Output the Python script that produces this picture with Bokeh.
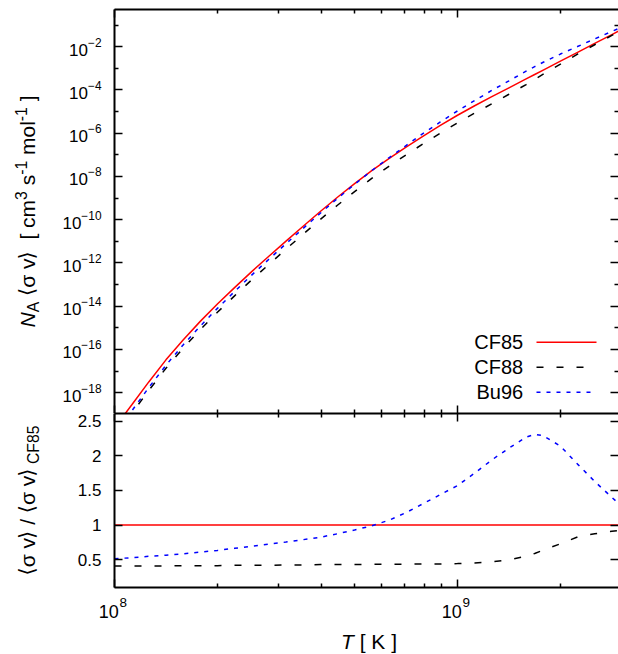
import math
import numpy as np
from bokeh.plotting import figure
from bokeh.layouts import column, row
from bokeh.models import FixedTicker, LogAxis, LinearAxis, Label, Range1d
from bokeh.embed import file_html
from bokeh.resources import INLINE
from bokeh.core.properties import value

# ---------------- data ----------------
log_T = [8.00, 8.05, 8.10, 8.15, 8.20, 8.25, 8.30, 8.35, 8.40, 8.45,
         8.50, 8.55, 8.60, 8.65, 8.70, 8.75, 8.80, 8.85, 8.90, 8.95,
         9.00, 9.05, 9.10, 9.15, 9.20, 9.225, 9.25, 9.30, 9.35, 9.40, 9.45, 9.477]

log_rate_cf85 = [-19.62, -18.57, -17.50, -16.48, -15.56, -14.70, -13.90, -13.14, -12.40, -11.69,
                 -10.99, -10.30, -9.62, -8.96, -8.33, -7.73, -7.17, -6.64, -6.13, -5.64,
                 -5.17, -4.73, -4.31, -3.90, -3.49, -3.285, -3.08, -2.67, -2.26, -1.85, -1.44, -1.22]
log_rate_cf88 = [-20.01, -18.96, -17.89, -16.87, -15.94, -15.08, -14.28, -13.52, -12.78, -12.07,
                 -11.36, -10.67, -9.99, -9.33, -8.70, -8.09, -7.53, -7.00, -6.49, -6.00,
                 -5.52, -5.07, -4.64, -4.20, -3.75, -3.51, -3.27, -2.81, -2.34, -1.91, -1.48, -1.25]
log_rate_bu96 = [-19.91, -18.85, -17.76, -16.73, -15.79, -14.92, -14.10, -13.32, -12.56, -11.83,
                 -11.11, -10.40, -9.70, -9.02, -8.36, -7.73, -7.14, -6.57, -6.01, -5.48,
                 -4.97, -4.49, -4.02, -3.58, -3.13, -2.92, -2.72, -2.34, -1.99, -1.64, -1.29, -1.11]

ratio_T = [8.0, 9.477]
ratio_cf85 = [1.0, 1.0]
ratio_cf88 = [0.41, 0.41, 0.41, 0.41, 0.415, 0.415, 0.415, 0.42, 0.42, 0.42,
              0.425, 0.425, 0.43, 0.43, 0.43, 0.435, 0.435, 0.435, 0.44, 0.44,
              0.445, 0.455, 0.47, 0.50, 0.55, 0.59, 0.64, 0.73, 0.83, 0.875, 0.91, 0.925]
ratio_bu96 = [0.515, 0.53, 0.55, 0.565, 0.585, 0.61, 0.635, 0.665, 0.695, 0.725,
              0.755, 0.79, 0.825, 0.875, 0.93, 0.99, 1.07, 1.18, 1.31, 1.44,
              1.57, 1.75, 1.94, 2.11, 2.27, 2.31, 2.29, 2.14, 1.88, 1.63, 1.40, 1.28]

series_names = ["CF85", "CF88", "Bu96"]
top_major_exp = [-18, -16, -14, -12, -10, -8, -6, -4, -2]
top_minor_exp = [-17, -15, -13, -11, -9, -7, -5, -3, -1]
x_major = [1e8, 1e9]
x_major_exp = ["8", "9"]
x_minor = [2e8, 3e8, 4e8, 5e8, 6e8, 7e8, 8e8, 9e8, 2e9, 3e9]
ratio_ticks = [0.5, 1.0, 1.5, 2.0, 2.5]
ratio_labels = ["0.5", "1", "1.5", "2", "2.5"]

# ---------------- geometry (page pixels) ----------------
W_PAGE, H_PAGE = 618, 654
STRIP_W = 50              # left strip holding the rotated axis titles
L, R, TOP, MID, BOT = 114, 618, 9, 413, 587
BOT_PAD = 2               # room for the label-less axis under the ratio panel
XSTRIP_TOP = BOT + BOT_PAD
XLO = 8.0
XHI = 8.0 + (R - L) / 343.0
YLO_T, YHI_T = -18.96, -0.28
YLO_B, YHI_B = 0.1, 2.61
MAIN_W = W_PAGE - STRIP_W
BORDER_L = L - STRIP_W
K_MID = 0.35              # alphabetic baseline sits this many ems below a "middle" anchor
YLAB_BASE = 34            # x of the baseline of the rotated axis titles

FONT = "Liberation Sans"
RED, BLACK, BLUE = "#ff0000", "#000000", "#0000ff"
DASH_88, DASH_96 = "7 13", "4 6"


def xd(px):
    return 10 ** (XLO + (px - L) / (R - L) * (XHI - XLO))


def yd_top(py):
    return 10 ** (YLO_T + (MID - py) / (MID - TOP) * (YHI_T - YLO_T))


T = [10 ** v for v in log_T]
T_r = [10 ** v for v in ratio_T]

x_range = Range1d(10 ** XLO, 10 ** XHI)


def base_fig(height, y_type, y_range, mt, mb):
    p = figure(width=MAIN_W, height=height, x_axis_type="log", y_axis_type=y_type,
               x_range=x_range, y_range=y_range,
               x_axis_location=None, y_axis_location=None,
               output_backend="svg", toolbar_location=None,
               min_border_left=BORDER_L, min_border_right=0,
               min_border_top=mt, min_border_bottom=mb)
    p.outline_line_color = None
    p.background_fill_color = "white"
    p.border_fill_color = "white"
    p.xgrid.visible = False
    p.ygrid.visible = False
    return p


def tick_style(ax, line=True):
    ax.major_tick_in = 8
    ax.major_tick_out = 0
    ax.minor_tick_in = 4
    ax.minor_tick_out = 0
    ax.major_tick_line_color = "black"
    ax.minor_tick_line_color = "black"
    ax.major_tick_line_width = 1.5
    ax.minor_tick_line_width = 1.5
    if line:
        ax.axis_line_color = "black"
        ax.axis_line_width = 2
    else:
        ax.axis_line_color = None
    return ax


def labelled(ax, standoff, size="17px"):
    tick_style(ax)
    ax.major_label_text_font = FONT
    ax.major_label_text_font_size = size
    ax.major_label_text_color = "black"
    ax.major_label_standoff = standoff
    return ax


def bare(ticker, line=True):
    ax = tick_style(LinearAxis(ticker=ticker), line)
    ax.major_label_text_font_size = "1px"
    ax.major_label_standoff = 0
    ax.major_label_overrides = {t: "" for t in ticker.ticks}
    return ax


# ---------------- top panel ----------------
top = base_fig(MID, "log", Range1d(10 ** YLO_T, 10 ** YHI_T), TOP, 0)
y_tk = FixedTicker(ticks=[10.0 ** e for e in top_major_exp],
                   minor_ticks=[10.0 ** e for e in top_minor_exp])
x_tk = FixedTicker(ticks=x_major, minor_ticks=x_minor)

top.add_layout(labelled(LogAxis(ticker=y_tk), 13), "left")
top.add_layout(bare(y_tk, line=False), "right")
top.add_layout(bare(x_tk), "above")
top.add_layout(bare(x_tk), "below")

top.line(T, [10 ** v for v in log_rate_cf85], line_color=RED, line_width=1.5)
top.line(T, [10 ** v for v in log_rate_cf88], line_color=BLACK, line_width=1.5, line_dash=DASH_88)
top.line(T, [10 ** v for v in log_rate_bu96], line_color=BLUE, line_width=1.5, line_dash=DASH_96)

# legend (text, then the line sample to its right)
leg_y = [341.7, 366.7, 391.7]
top.text(x=[xd(522.7)] * 3, y=[yd_top(v) for v in leg_y], text=series_names,
         text_font=value(FONT), text_font_size="20px", text_align="right",
         text_baseline="middle", text_color="black")
for yy, col, dash in zip(leg_y, [RED, BLACK, BLUE], ["solid", DASH_88, DASH_96]):
    top.line([xd(536), xd(596)], [yd_top(yy)] * 2, line_color=col, line_width=1.5, line_dash=dash)

# ---------------- bottom panel ----------------
bot = base_fig(XSTRIP_TOP - MID, "linear", Range1d(YLO_B, YHI_B), 0, BOT_PAD)
r_tk = FixedTicker(ticks=ratio_ticks, minor_ticks=[])
ax = labelled(LinearAxis(ticker=r_tk), 13)
ax.major_label_overrides = {t: s for t, s in zip(ratio_ticks, ratio_labels)}
bot.add_layout(ax, "left")
bot.add_layout(bare(r_tk, line=False), "right")
bot.add_layout(bare(x_tk), "above")
bot.add_layout(bare(x_tk), "below")

bot.line(T_r, ratio_cf85, line_color=RED, line_width=1.5)
bot.line(T, ratio_cf88, line_color=BLACK, line_width=1.5, line_dash=DASH_88)
bot.line(T, ratio_bu96, line_color=BLUE, line_width=1.5, line_dash=DASH_96)


# ---------------- text strips (y data == distance from page bottom) ----------------
def strip(width, height, xr, x_type):
    p = figure(width=width, height=height, x_range=xr, x_axis_type=x_type,
               y_range=Range1d(0, height),
               x_axis_location=None, y_axis_location=None,
               output_backend="svg", toolbar_location=None, min_border=0)
    p.frame_align = False
    p.outline_line_color = None
    p.background_fill_color = "white"
    p.border_fill_color = "white"
    p.xgrid.visible = False
    p.ygrid.visible = False
    return p


left_strip = strip(STRIP_W, H_PAGE, Range1d(0, STRIP_W), "linear")
x_strip = strip(MAIN_W, H_PAGE - XSTRIP_TOP, Range1d(xd(STRIP_W), xd(W_PAGE)), "log")

ADV = {' ': 278, 'N': 722, 'A': 667, 'σ': 571, 'v': 500, '[': 278, ']': 278, 'c': 500,
       'm': 833, '3': 556, 's': 500, '-': 333, '1': 556, 'o': 556, 'l': 222, '/': 278,
       'C': 722, 'F': 611, '8': 556, '5': 556, 'T': 611, 'K': 667, '⟨': 390, '⟩': 390}


def tw(s, fs):
    return sum(ADV.get(c, 556) for c in s) / 1000.0 * fs


def put(fig, x, px_shift, py, text, fs, style="normal", font=FONT, angle=0.0, align="left"):
    # (x, py) is the start of the alphabetic baseline; the label is anchored at its middle
    if angle:
        x_off, y_abs = px_shift - K_MID * fs, py
    else:
        x_off, y_abs = px_shift, py - K_MID * fs
    fig.add_layout(Label(x=x, y=H_PAGE - y_abs, x_offset=x_off, text=text, angle=angle,
                         text_font=font, text_font_size=f"{fs:.1f}px",
                         text_font_style=style, text_color="black",
                         text_align=align, text_baseline="middle"))


def compose(fig, pieces, x0, y0, angle, cx):
    pos = 0.0
    for text, style, fs, shift, font in pieces:
        lead = len(text) - len(text.lstrip(" "))
        pos += tw(" " * lead, fs)
        body = text.strip(" ")
        if body:
            if angle:
                px, py = x0 + shift, y0 - pos
            else:
                px, py = x0 + pos, y0 + shift
            put(fig, cx(px), 0.0, py, body, fs, style, font, angle)
        pos += tw(text.lstrip(" "), fs)


F = 21.0
S = F * 0.75
SUP = -0.38 * F
SUB = 0.22 * F
SYM = "DejaVu Sans"

ylab_top = [("N", "italic", F, 0, FONT), ("A", "normal", S, SUB, FONT),
            (" ⟨", "normal", F, 0, SYM), ("σ v", "normal", F, 0, FONT), ("⟩", "normal", F, 0, SYM),
            ("  [ cm", "normal", F, 0, FONT), ("3", "normal", S, SUP, FONT),
            (" s", "normal", F, 0, FONT), ("-1", "normal", S, SUP, FONT),
            (" mol", "normal", F, 0, FONT), ("-1", "normal", S, SUP, FONT),
            (" ]", "normal", F, 0, FONT)]
tot = sum(tw(p[0], p[2]) for p in ylab_top)
compose(left_strip, ylab_top, YLAB_BASE, (TOP + MID) / 2 + tot / 2, math.pi / 2, lambda v: v)

ylab_bot = [("⟨", "normal", F, 0, SYM), ("σ v", "normal", F, 0, FONT), ("⟩", "normal", F, 0, SYM),
            (" /", "normal", F, 0, FONT),
            (" ⟨", "normal", F, 0, SYM), ("σ v", "normal", F, 0, FONT), ("⟩", "normal", F, 0, SYM),
            (" CF85", "normal", S, SUB, FONT)]
tot = sum(tw(p[0], p[2]) for p in ylab_bot)
compose(left_strip, ylab_bot, YLAB_BASE, (MID + BOT) / 2 + tot / 2, math.pi / 2, lambda v: v)

# x tick labels 10^8, 10^9 placed at the tick values through the strip's log x-range
for tv, ex in zip(x_major, x_major_exp):
    put(x_strip, tv, 4.3, 617.7, "10", 18.0, align="right")
    put(x_strip, tv, 5.0, 606.5, ex, 13.5, align="left")

xlab = [("T", "italic", F, 0, FONT), (" [ K ]", "normal", F, 0, FONT)]
tot = sum(tw(p[0], p[2]) for p in xlab)
compose(x_strip, xlab, 368.5 - tot / 2, 648, 0, xd)

layout = row(left_strip, column(top, bot, x_strip, spacing=0), spacing=0)
open("out.html", "w").write(file_html(layout, INLINE))
